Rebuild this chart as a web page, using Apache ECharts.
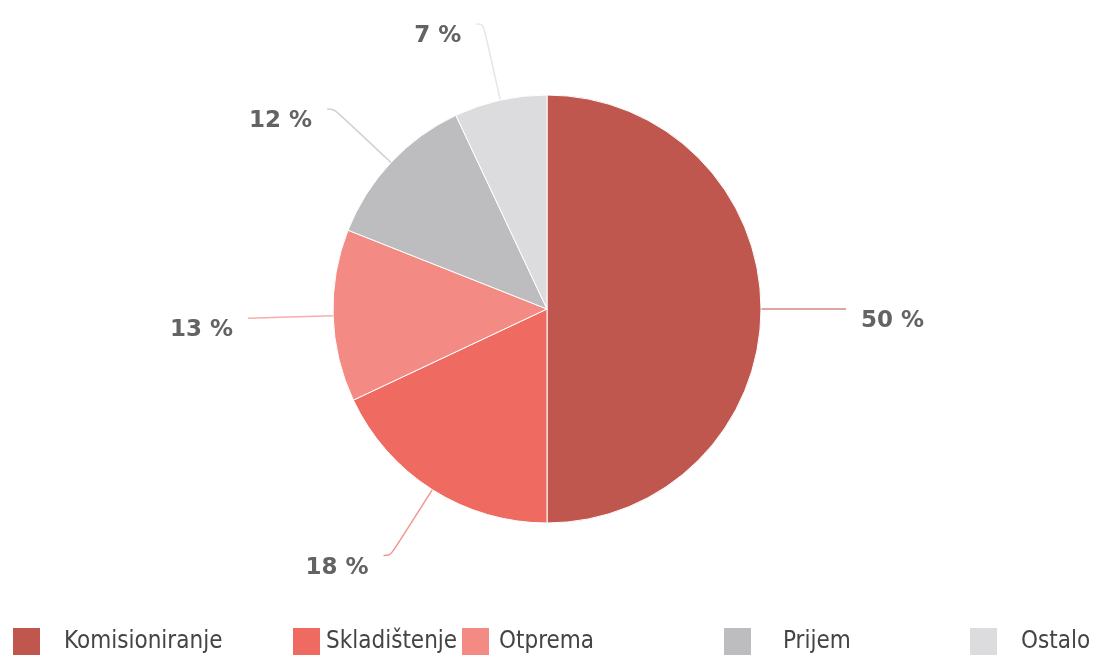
<!DOCTYPE html>
<html>
<head>
<meta charset="utf-8">
<script src="https://cdn.jsdelivr.net/npm/echarts@6/dist/echarts.min.js"></script>
<style>html,body{margin:0;padding:0;background:#fff}#c{width:1093px;height:662px}</style>
</head>
<body>
<div id="c"></div>
<script>
const categories = ['Komisioniranje', 'Skladištenje', 'Otprema', 'Prijem', 'Ostalo'];
const values = [50, 18, 13, 12, 7];
const colors = ['#c0574f', '#ef6a61', '#f38a83', '#bdbdc0', '#dcdcde'];
const legendLeft = [6, 286, 455, 717, 963];
const legendGap = [18, 0, 4, 26, 18];

const chart = echarts.init(document.getElementById('c'));
const legends = categories.map((name, i) => ({
  data: [name],
  left: legendLeft[i],
  top: 621,
  orient: 'horizontal',
  icon: 'rect',
  itemWidth: 29,
  itemHeight: 29,
  selectedMode: false,
  textStyle: {
    fontFamily: "'DejaVu Sans Condensed', 'Liberation Sans'",
    fontSize: 24,
    color: '#444',
    padding: [0, 0, 0, legendGap[i]]
  }
}));

chart.setOption({
  animation: false,
  color: colors,
  legend: legends,
  series: [{
    type: 'pie',
    center: [547, 309],
    radius: [0, 214],
    startAngle: 90,
    clockwise: true,
    avoidLabelOverlap: false,
    data: categories.map((n, i) => ({ name: n, value: values[i] })),
    itemStyle: { borderColor: '#fff', borderWidth: 1 },
    label: {
      formatter: '\n{c} %',
      fontFamily: 'DejaVu Sans',
      fontWeight: 'bold',
      fontSize: 23,
      lineHeight: 24,
      color: '#636363',
      distanceToLabelLine: 15
    },
    labelLine: {
      length: 78,
      length2: 7,
      smooth: 0.4,
      lineStyle: { width: 1.5, opacity: 0.7 }
    },
    emphasis: { disabled: true }
  }]
});
</script>
</body>
</html>
